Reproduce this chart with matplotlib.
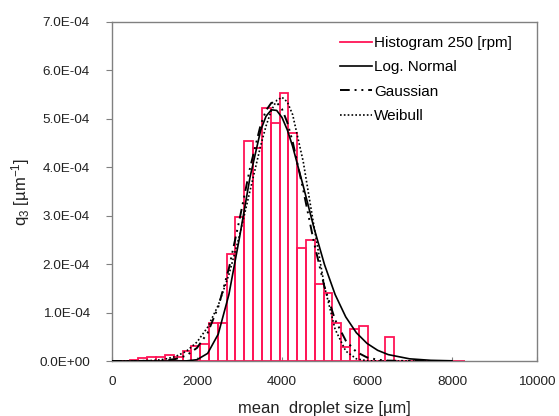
import matplotlib
matplotlib.use("Agg")
import matplotlib.pyplot as plt
from matplotlib.ticker import FixedLocator, FuncFormatter

plt.rcParams['font.family'] = ['Liberation Sans', 'DejaVu Sans']
plt.rcParams['mathtext.default'] = 'regular'

# Histogram (bin width ~207.5 um, starting at 0)
bin_width = 207.5
hist_q3 = [0.1e-5, 0.1e-5, 0.3e-5, 0.6e-5, 0.9e-5, 0.9e-5, 1.2e-5, 0.8e-5, 2.1e-5, 3.1e-5,
           3.6e-5, 0.79e-4, 0.79e-4, 2.21e-4, 2.98e-4, 4.55e-4, 4.39e-4, 5.22e-4, 4.92e-4, 5.54e-4,
           4.70e-4, 2.33e-4, 2.50e-4, 1.58e-4, 1.40e-4, 0.78e-4, 0.28e-4, 0.67e-4, 0.73e-4, 0.0,
           0.0, 0.50e-4, 0.0, 0.1e-5, 0.0, 0.1e-5, 0.0, 0.1e-5, 0.0, 0.1e-5]
hist_left = [i * bin_width for i in range(len(hist_q3))]

# Fitted curves
curve_x = [0, 500, 1000, 1250, 1500, 1750, 2000, 2250, 2500, 2750, 3000, 3250, 3500, 3625,
           3750, 3875, 4000, 4125, 4250, 4500, 4750, 5000, 5250, 5500, 5750, 6000, 6250,
           6500, 7000, 7500, 8000]
lognormal = [0, 0, 0, 0, 0, 0.0024e-4, 0.027e-4, 0.157e-4, 0.555e-4, 1.370e-4, 2.549e-4,
             3.806e-4, 4.769e-4, 5.055e-4, 5.187e-4, 5.174e-4, 5.028e-4, 4.772e-4, 4.432e-4,
             3.612e-4, 2.756e-4, 1.990e-4, 1.372e-4, 0.910e-4, 0.583e-4, 0.364e-4, 0.221e-4,
             0.132e-4, 0.045e-4, 0.014e-4, 0.004e-4]
gaussian = [0, 0, 0.004e-4, 0.014e-4, 0.042e-4, 0.113e-4, 0.271e-4, 0.581e-4, 1.115e-4,
            1.909e-4, 2.922e-4, 3.996e-4, 4.883e-4, 5.175e-4, 5.331e-4, 5.340e-4, 5.201e-4,
            4.925e-4, 4.533e-4, 3.531e-4, 2.457e-4, 1.527e-4, 0.849e-4, 0.421e-4, 0.187e-4,
            0.074e-4, 0.026e-4, 0.008e-4, 0, 0, 0]
weibull = [0, 0.0004e-4, 0.012e-4, 0.038e-4, 0.094e-4, 0.202e-4, 0.391e-4, 0.696e-4, 1.151e-4,
           1.783e-4, 2.591e-4, 3.523e-4, 4.453e-4, 4.855e-4, 5.175e-4, 5.381e-4, 5.446e-4,
           5.350e-4, 5.088e-4, 4.115e-4, 2.794e-4, 1.536e-4, 0.654e-4, 0.205e-4, 0.045e-4,
           0.006e-4, 0, 0, 0, 0, 0]

x_ticks = [0, 2000, 4000, 6000, 8000, 10000]
y_ticks = [0, 1e-4, 2e-4, 3e-4, 4e-4, 5e-4, 6e-4, 7e-4]

pink = '#FF1456'
grey = '#808080'
txt = '#222222'

fig = plt.figure(figsize=(5.59, 4.16), dpi=100)
ax = fig.add_axes([112 / 559, 1 - 361 / 416, 425 / 559, 339 / 416])

ax.bar(hist_left, hist_q3, width=bin_width, align='edge', fill=False,
       edgecolor=pink, linewidth=1.3, zorder=2)
ax.plot([], [], color=pink, lw=1.3, label='Histogram 250 [rpm]')
ax.plot(curve_x, lognormal, color='black', lw=1.2, label='Log. Normal', zorder=3)
ax.plot(curve_x, gaussian, color='black', lw=1.4, linestyle=(0, (5, 2.5, 1, 2.5, 1, 2.5)),
        label='Gaussian', zorder=3)
ax.plot(curve_x, weibull, color='black', lw=1.2, linestyle=(0, (1, 1.3)),
        label='Weibull', zorder=3)

ax.set_xlim(0, 10000)
ax.set_ylim(0, 7e-4)
ax.xaxis.set_major_locator(FixedLocator(x_ticks))
ax.yaxis.set_major_locator(FixedLocator(y_ticks))
ax.xaxis.set_major_formatter(FuncFormatter(lambda v, p: f"{int(v)}"))
ax.yaxis.set_major_formatter(FuncFormatter(lambda v, p: f"{v:.1E}"))
ax.tick_params(axis='x', direction='in', length=3, color=grey, labelsize=9.7,
               labelcolor=txt, pad=11)
ax.tick_params(axis='y', direction='out', length=4, color=grey, labelsize=9.7,
               labelcolor=txt, pad=12)
for s in ax.spines.values():
    s.set_color(grey)
    s.set_linewidth(1.0)

ax.set_xlabel('mean  droplet size [µm]', fontsize=11.9, color=txt, labelpad=9)
ax.set_ylabel('q$_3$ [µm$^{-1}$]', fontsize=12, color=txt, labelpad=5)

ax.legend(loc='upper left', bbox_to_anchor=((340 - 112) / 425, (361 - 36) / 339),
          frameon=False, fontsize=11, handlelength=2.1, handletextpad=0.12,
          labelspacing=0.68, borderpad=0, borderaxespad=0)

fig.savefig('out.png', dpi=100)
